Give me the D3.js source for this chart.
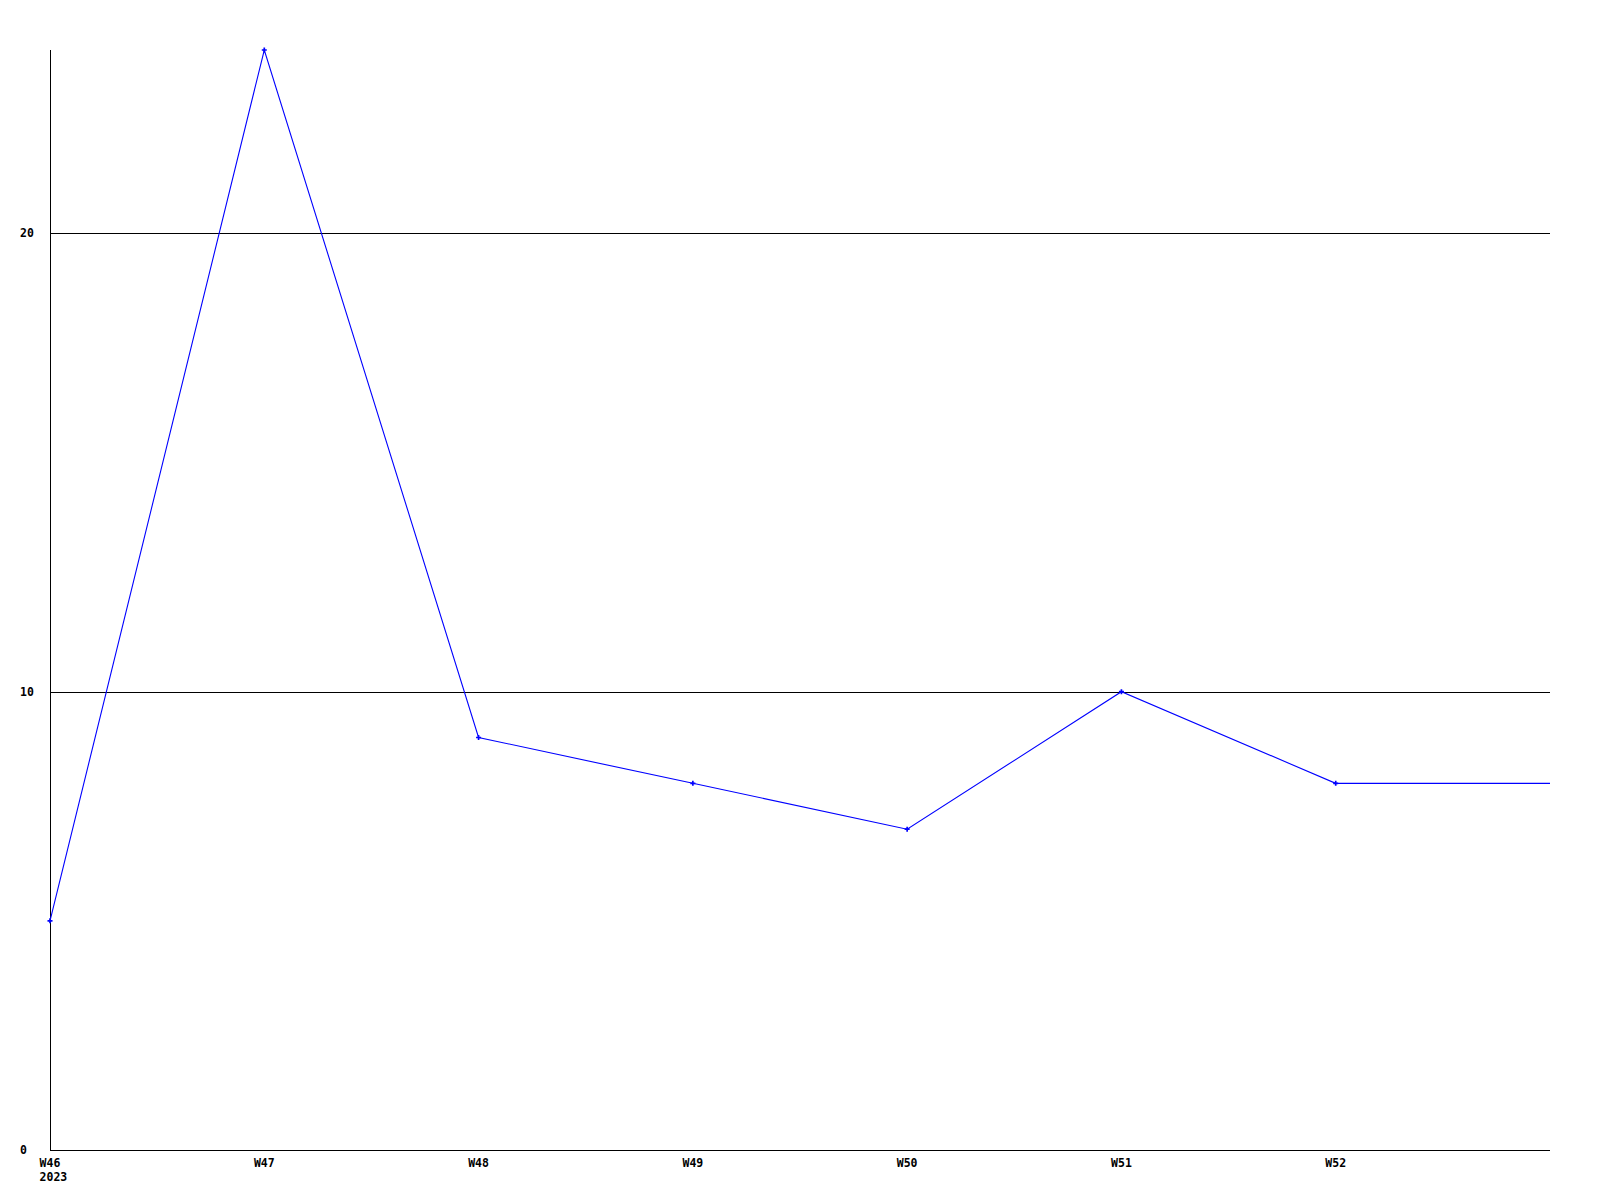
<!DOCTYPE html>
<html><head><meta charset="utf-8">
<script src="https://cdn.jsdelivr.net/npm/d3@7"></script>
<style>
html,body{margin:0;padding:0;background:#fff;}
svg{display:block;}
text{font-family:"DejaVu Sans Mono","Liberation Mono",monospace;font-weight:bold;font-size:11.5px;fill:#000;}
</style></head>
<body>
<script>
const weeks = ["W46","W47","W48","W49","W50","W51","W52"];
const values = [5,24,9,8,7,10,8];
const yTicks = [0,10,20];
const yearLabel = "2023";
const xEnd = 7; // domain extends one week beyond last label

const W = 1600, H = 1200;
const svg = d3.select("body").append("svg").attr("width",W).attr("height",H);

const x = d3.scaleLinear().domain([0,xEnd]).range([50,1550]);
const y = d3.scaleLinear().domain([0,24]).range([1150,50]);

// grid lines
svg.append("g").selectAll("line").data(yTicks.filter(d=>d>0)).join("line")
  .attr("x1",x(0)).attr("x2",x(xEnd))
  .attr("y1",d=>Math.round(y(d))+0.5).attr("y2",d=>Math.round(y(d))+0.5)
  .attr("stroke","#000").attr("stroke-width",1).attr("shape-rendering","crispEdges");

// axes lines
svg.append("line").attr("x1",x(0)+0.5).attr("x2",x(0)+0.5).attr("y1",y(24)).attr("y2",y(0)+1)
  .attr("stroke","#000").attr("shape-rendering","crispEdges");
svg.append("line").attr("x1",x(0)).attr("x2",x(xEnd)).attr("y1",Math.round(y(0))+0.5).attr("y2",Math.round(y(0))+0.5)
  .attr("stroke","#000").attr("shape-rendering","crispEdges");

// y labels (left aligned)
svg.append("g").selectAll("text").data(yTicks).join("text")
  .attr("x",20).attr("y",d=>y(d)).attr("dy","0.35em").attr("text-anchor","start")
  .text(d=>d);

// x labels
svg.append("g").selectAll("text").data(weeks).join("text")
  .attr("x",(d,i)=>x(i)).attr("y",1166.5).attr("text-anchor","middle").text(d=>d);
svg.append("text").attr("x",x(0)).attr("y",1180.5).attr("text-anchor","start")
  .attr("dx",-10.4).text(yearLabel);

// line
const pts = values.map((v,i)=>[x(i),y(v)]);
pts.push([x(xEnd), y(values[values.length-1])]);
svg.append("path").attr("d",d3.line()(pts)).attr("fill","none")
  .attr("stroke","#0000ff").attr("stroke-width",1.1);

// markers
svg.append("g").selectAll("path").data(values).join("path")
  .attr("transform",(d,i)=>`translate(${x(i)},${y(d)})`)
  .attr("d",d3.symbol(d3.symbolCross,14)())
  .attr("fill","#0000ff");
</script>
</body></html>
